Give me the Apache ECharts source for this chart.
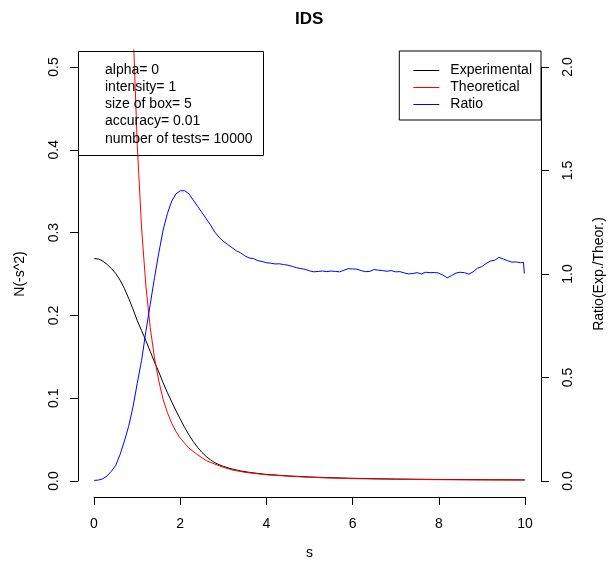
<!DOCTYPE html>
<html>
<head>
<meta charset="utf-8">
<script src="https://cdn.jsdelivr.net/npm/echarts@6/dist/echarts.min.js"></script>
<style>
  html, body { margin: 0; padding: 0; background: #fff; }
  #chart { width: 609px; height: 565px; }
</style>
</head>
<body>
<div id="chart"></div>
<script>
  // Experimental N(-s^2)
  const expS = [0, 0.1, 0.2, 0.3, 0.4, 0.5, 0.6, 0.7, 0.8, 0.9, 1.0, 1.1, 1.2, 1.3, 1.4, 1.5, 1.6, 1.7, 1.8, 1.9,
    2.0, 2.1, 2.2, 2.3, 2.4, 2.5, 2.6, 2.7, 2.8, 2.9, 3.0, 3.2, 3.4, 3.6, 3.8, 4.0, 4.5, 5.0, 5.5, 6.0, 7.0, 8.0, 9.0, 10.0]
  const expVals = [0.268, 0.2675, 0.265, 0.261, 0.256, 0.250, 0.242, 0.232, 0.220, 0.207, 0.193, 0.181, 0.169, 0.156,
    0.143, 0.131, 0.118, 0.106, 0.095, 0.084, 0.074, 0.064, 0.055, 0.047, 0.040, 0.034, 0.029, 0.025, 0.0215, 0.019,
    0.017, 0.0138, 0.0115, 0.0098, 0.0085, 0.0073, 0.0055, 0.0042, 0.0033, 0.0026, 0.0017, 0.0012, 0.0009, 0.0007]

  // Theoretical
  const theoS = [0.8, 0.9, 1.0, 1.1, 1.2, 1.3, 1.4, 1.5, 1.6, 1.7, 1.8, 1.9, 2.0, 2.2, 2.4, 2.6, 2.8, 3.0, 3.2, 3.5,
    4.0, 4.5, 5.0, 5.5, 6.0, 7.0, 8.0, 9.0, 10.0]
  const theoVals = [0.78, 0.55, 0.405, 0.305, 0.235, 0.185, 0.148, 0.120, 0.098, 0.082, 0.069, 0.059, 0.051, 0.039,
    0.031, 0.024, 0.0198, 0.0158, 0.0128, 0.0098, 0.0068, 0.0052, 0.0038, 0.0029, 0.0022, 0.0014, 0.0009, 0.0006, 0.0004]

  // Ratio (Exp./Theor.)
  const ratioS = [0, 0.1, 0.2, 0.3, 0.4, 0.5, 0.6, 0.7, 0.8, 0.9,
    1.0, 1.1, 1.2, 1.3, 1.4, 1.5, 1.6, 1.7, 1.8, 1.9,
    2.0, 2.1, 2.2, 2.3, 2.4, 2.5, 2.6, 2.7, 2.8, 2.9,
    3.0, 3.1, 3.2, 3.3, 3.4, 3.5, 3.6, 3.7, 3.8, 3.9,
    4.0, 4.1, 4.2, 4.3, 4.4, 4.5, 4.6, 4.7, 4.8, 4.9,
    5.0, 5.1, 5.2, 5.3, 5.4, 5.5, 5.6, 5.7, 5.8, 5.9,
    6.0, 6.1, 6.2, 6.3, 6.4, 6.5, 6.6, 6.7, 6.8, 6.9,
    7.0, 7.1, 7.2, 7.3, 7.4, 7.5, 7.6, 7.7, 7.8, 7.9,
    8.0, 8.1, 8.2, 8.3, 8.4, 8.5, 8.6, 8.7, 8.8, 8.9,
    9.0, 9.1, 9.2, 9.3, 9.4, 9.5, 9.6, 9.7, 9.8, 9.9, 9.97,
    9.99]
  const ratioVals = [0.0, 0.002, 0.008, 0.022, 0.045, 0.073, 0.125, 0.19, 0.262, 0.355,
    0.47, 0.58, 0.72, 0.85, 0.98, 1.10, 1.21, 1.29, 1.35, 1.385,
    1.40, 1.40, 1.385, 1.355, 1.325, 1.295, 1.265, 1.235, 1.20, 1.175,
    1.155, 1.14, 1.125, 1.11, 1.10, 1.085, 1.075, 1.072, 1.062, 1.058,
    1.052, 1.05, 1.046, 1.047, 1.043, 1.04, 1.034, 1.028, 1.024, 1.02,
    1.013, 1.008, 1.01, 1.012, 1.009, 1.012, 1.01, 1.008, 1.016, 1.023,
    1.022, 1.021, 1.014, 1.009, 1.01, 1.019, 1.016, 1.014, 1.011, 1.014,
    1.008, 1.009, 1.003, 0.998, 1.0, 1.004, 0.998, 1.006, 1.004, 1.005,
    1.002, 0.992, 0.979, 0.99, 1.002, 1.006, 1.004, 0.997, 1.008, 1.025,
    1.033, 1.048, 1.06, 1.064, 1.078, 1.07, 1.062, 1.055, 1.056, 1.052, 1.054,
    1.0]

  const infoLines = ['alpha= 0', 'intensity= 1', 'size of box= 5', 'accuracy= 0.01', 'number of tests= 10000']
  const xTicks = { min: 0, max: 10, interval: 2 }
  const leftTicks = { min: 0, max: 0.5, interval: 0.1 }
  const rightTicks = { min: 0, max: 2, interval: 0.5 }

  const font = 'Liberation Sans, Arial, Helvetica, sans-serif'
  const pairs = (xs, ys) => xs.map((x, i) => [x, ys[i]])

  const axisCommon = {
    axisLine: { show: true, onZero: false, lineStyle: { color: '#000', width: 1 } },
    axisTick: { show: true, length: 8, lineStyle: { color: '#000', width: 1 } },
    splitLine: { show: false },
    nameTextStyle: { color: '#000', fontSize: 14, fontFamily: font }
  }

  const chart = echarts.init(document.getElementById('chart'))
  chart.setOption({
    animation: false,
    backgroundColor: '#fff',
    title: [
      {
        text: 'IDS',
        left: 290,
        top: 6,
        textStyle: { fontSize: 17, fontWeight: 'bold', color: '#000', fontFamily: font }
      },
      {
        text: infoLines.join('\n'),
        left: 78,
        top: 51,
        borderColor: '#000',
        borderWidth: 1,
        padding: [10, 11, 8, 27],
        textStyle: { fontSize: 14, fontWeight: 'normal', color: '#000', fontFamily: font, lineHeight: 17.3 }
      }
    ],
    legend: {
      orient: 'vertical',
      right: 68,
      top: 51,
      borderColor: '#000',
      borderWidth: 1,
      padding: [11, 9, 7, 14],
      icon: 'rect',
      itemWidth: 26,
      itemHeight: 1,
      itemGap: 0,
      textStyle: { fontSize: 14, color: '#000', fontFamily: font, lineHeight: 17, padding: [0, 0, 0, 6] },
      data: ['Experimental', 'Theoretical', 'Ratio']
    },
    grid: [
      { left: 77, right: 67, top: 50, bottom: 68, outerBoundsMode: 'none' },
      { left: 94, right: 84, top: 67, bottom: 84, outerBoundsMode: 'none' }
    ],
    xAxis: [
      { gridIndex: 0, type: 'value', min: -0.4, max: 10.4, show: false },
      Object.assign({}, axisCommon, {
        gridIndex: 1,
        type: 'value',
        min: xTicks.min,
        max: xTicks.max,
        interval: xTicks.interval,
        position: 'bottom',
        offset: 16,
        name: 's',
        nameLocation: 'middle',
        nameGap: 49,
        axisLabel: { color: '#000', fontSize: 14, fontFamily: font, margin: 20 }
      })
    ],
    yAxis: [
      { gridIndex: 0, type: 'value', min: -0.02, max: 0.52, show: false },
      { gridIndex: 0, type: 'value', min: -0.08, max: 2.08, show: false },
      Object.assign({}, axisCommon, {
        gridIndex: 1,
        type: 'value',
        min: leftTicks.min,
        max: leftTicks.max,
        interval: leftTicks.interval,
        position: 'left',
        offset: 16,
        name: 'N(-s^2)',
        nameLocation: 'middle',
        nameRotate: 90,
        nameGap: 51,
        axisLabel: { color: '#000', fontSize: 14, fontFamily: font, margin: 17, rotate: 90,
          formatter: v => v.toFixed(1) }
      }),
      Object.assign({}, axisCommon, {
        gridIndex: 1,
        type: 'value',
        min: rightTicks.min,
        max: rightTicks.max,
        interval: rightTicks.interval,
        position: 'right',
        offset: 16,
        name: 'Ratio(Exp./Theor.)',
        nameLocation: 'middle',
        nameRotate: 90,
        nameGap: 51,
        axisLabel: { color: '#000', fontSize: 14, fontFamily: font, margin: 20, rotate: 90,
          formatter: v => v.toFixed(1) }
      })
    ],
    series: [
      {
        name: 'Experimental',
        type: 'line',
        xAxisIndex: 0,
        yAxisIndex: 0,
        symbol: 'none',
        clip: true,
        color: '#000000',
        lineStyle: { color: '#000000', width: 1 },
        data: pairs(expS, expVals)
      },
      {
        name: 'Theoretical',
        type: 'line',
        xAxisIndex: 0,
        yAxisIndex: 0,
        symbol: 'none',
        clip: true,
        color: '#ff0000',
        lineStyle: { color: '#ff0000', width: 1 },
        data: pairs(theoS, theoVals)
      },
      {
        name: 'Ratio',
        type: 'line',
        xAxisIndex: 0,
        yAxisIndex: 1,
        symbol: 'none',
        clip: true,
        color: '#0000ff',
        lineStyle: { color: '#0000ff', width: 1 },
        data: pairs(ratioS, ratioVals)
      }
    ]
  })
</script>
</body>
</html>
